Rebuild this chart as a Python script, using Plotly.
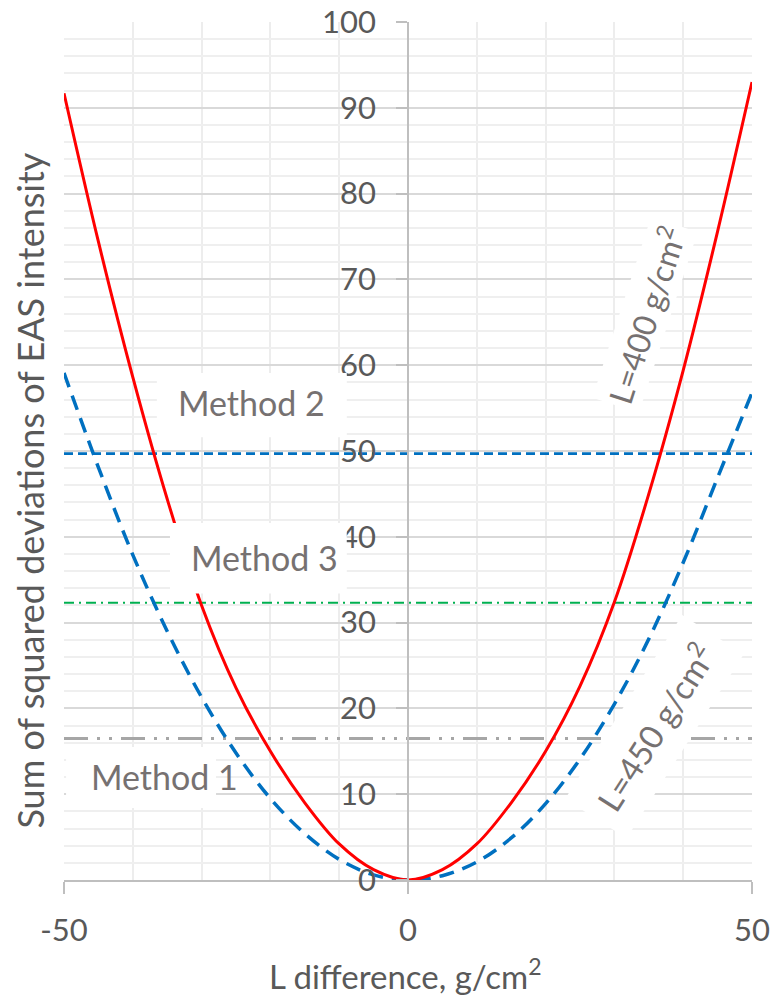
import plotly.graph_objects as go

# ---- data ----
x_vals = [-50, -45, -40, -35, -30, -25, -20, -15, -10, -5, 0,
          5, 10, 15, 20, 25, 30, 35, 40, 45, 50]
l400 = [91.7, 74.4, 58.6, 44.4, 32.0, 22.4, 15.0, 9.0, 4.2, 1.2, 0.0,
        1.2, 4.2, 9.0, 15.0, 22.6, 32.4, 45.0, 59.4, 75.6, 93.0]
l450 = [59.1, 48.1, 37.9, 29.0, 21.3, 14.8, 9.5, 5.4, 2.4, 0.6, 0.0,
        0.5, 2.1, 4.9, 8.9, 14.1, 20.5, 28.1, 37.0, 46.9, 56.8]
method_names = ["Method 1", "Method 2", "Method 3"]
method_levels = [16.5, 49.7, 32.3]
x_range = [-50, 50]
x_ticks = [-50, 0, 50]
x_tick_text = ["-50", "0", "50"]
y_range = [0, 100]

FONT = "Lato"
LABEL_GRAY = "#767171"
AXIS_GRAY = "#595959"

fig = go.Figure()

# horizontal method levels
method_styles = {
    "Method 1": dict(color="#a6a6a6", width=3, dash="24px,9px,3px,9px,3px,9px"),
    "Method 2": dict(color="#0070c0", width=2.75, dash="9px,5px"),
    "Method 3": dict(color="#00b050", width=2, dash="10px,5px,2px,5px"),
}
for name, lvl in zip(method_names, method_levels):
    fig.add_trace(go.Scatter(x=x_range, y=[lvl, lvl], mode="lines",
                             line=method_styles[name], name=name,
                             showlegend=False, hoverinfo="skip"))

fig.add_trace(go.Scatter(x=x_vals, y=l450, mode="lines", name="L=450",
                         line=dict(color="#0070c0", width=3.5, dash="15px,9px",
                                   shape="spline", smoothing=1.0),
                         showlegend=False))
fig.add_trace(go.Scatter(x=x_vals, y=l400, mode="lines", name="L=400",
                         line=dict(color="#ff0000", width=3,
                                   shape="spline", smoothing=1.0),
                         showlegend=False))

# white boxes behind the method labels (drawn above traces)
boxes = [(-36.5, -8.9, 51.6, 59.1), (-34.6, -8.9, 33.4, 41.6), (-49.7, -27.9, 8.4, 15.5)]
for x0, x1, y0, y1 in boxes:
    fig.add_shape(type="rect", xref="x", yref="y", x0=x0, x1=x1, y0=y0, y1=y1,
                  fillcolor="white", line=dict(width=0), layer="above")

annots = [
    dict(text="Method 2", x=-22.7, y=55.6),
    dict(text="Method 3", x=-20.8, y=37.6),
    dict(text="Method 1", x=-35.4, y=12.1),
]
for a in annots:
    fig.add_annotation(text=a["text"], x=a["x"], y=a["y"], xref="x", yref="y",
                       showarrow=False, font=dict(family=FONT, size=34, color=LABEL_GRAY))

fig.add_annotation(text="L=400 g/cm<sup>2</sup>", x=34.4, y=65.9, xref="x", yref="y",
                   showarrow=False, textangle=-72, bgcolor="white", borderpad=3,
                   font=dict(family=FONT, size=32, color=LABEL_GRAY))
fig.add_annotation(text="L=450 g/cm<sup>2</sup>", x=35.9, y=17.9, xref="x", yref="y",
                   showarrow=False, textangle=-57.5, bgcolor="white", borderpad=14,
                   font=dict(family=FONT, size=33, color=LABEL_GRAY))

# axis titles
fig.add_annotation(text="Sum of squared deviations of EAS intensity",
                   x=-0.05, y=0.4534, xref="paper", yref="paper",
                   showarrow=False, textangle=-90, xanchor="center", yanchor="middle",
                   font=dict(family=FONT, size=36, color=AXIS_GRAY))
fig.add_annotation(text="L difference, g/cm<sup>2</sup>",
                   x=0.497, y=-0.109, xref="paper", yref="paper",
                   showarrow=False, yanchor="middle",
                   font=dict(family=FONT, size=33, color=AXIS_GRAY))

fig.update_layout(
    width=773, height=1001,
    margin=dict(l=64, r=21, t=22, b=121, autoexpand=False),
    plot_bgcolor="white", paper_bgcolor="white",
    font=dict(family=FONT, color=AXIS_GRAY),
    xaxis=dict(range=x_range, tickvals=x_ticks, ticktext=x_tick_text, showgrid=True,
               automargin=False,
               gridcolor="#ededed", gridwidth=1.5,
               minor=dict(dtick=10, showgrid=True, gridcolor="#ededed", gridwidth=1.5),
               showline=True, linecolor="#bfbfbf", linewidth=1.5,
               ticks="outside", ticklen=12, tickwidth=1.5, tickcolor="#bfbfbf",
               zeroline=False, ticklabelstandoff=10,
               tickfont=dict(family=FONT, size=31, color=AXIS_GRAY)),
    yaxis=dict(range=y_range, dtick=10, anchor="free", position=0.5,
               automargin=False,
               showgrid=True, gridcolor="#d9d9d9", gridwidth=1.5,
               minor=dict(dtick=2, showgrid=True, gridcolor="#efefef", gridwidth=1.5),
               showline=True, linecolor="#bfbfbf", linewidth=1.5,
               ticks="outside", ticklen=11, tickwidth=1.5, tickcolor="#bfbfbf",
               zeroline=False, ticklabelstandoff=14,
               tickfont=dict(family=FONT, size=31, color=AXIS_GRAY)),
)

fig.write_html("out.html")
